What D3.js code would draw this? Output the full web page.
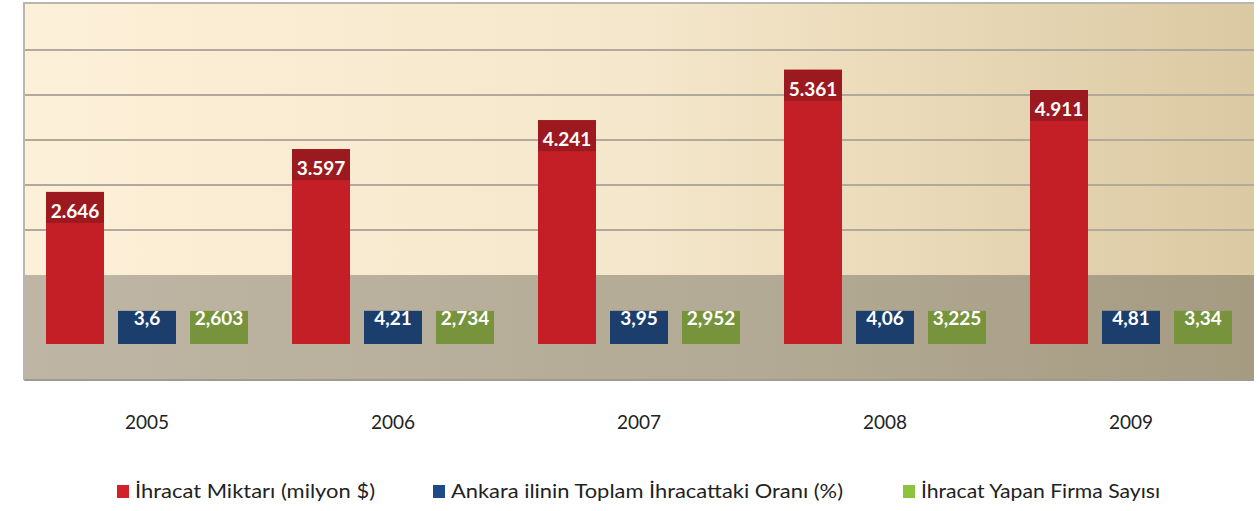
<!DOCTYPE html>
<html>
<head>
<meta charset="utf-8">
<script src="https://cdn.jsdelivr.net/npm/d3@7"></script>
<style>
  body { margin: 0; background: #fff; }
  svg { display: block; font-family: Lato, "Open Sans", sans-serif; }
</style>
</head>
<body>
<svg id="chart" width="1260" height="511"></svg>
<script>
// values
const years = ['2005', '2006', '2007', '2008', '2009'];
const seriesNames = [
  'İhracat Miktarı (milyon $)',
  'Ankara ilinin Toplam İhracattaki Oranı (%)',
  'İhracat Yapan Firma Sayısı'
];
const exportValues = [2646, 3597, 4241, 5361, 4911];
const shareValues = [3.6, 4.21, 3.95, 4.06, 4.81];
const firmValues = [2.603, 2.734, 2.952, 3.225, 3.34];
const yTicks = [1000, 2000, 3000, 4000, 5000];

const barColors = ['#c41f27', '#1b3e6d', '#77933c'];
const legendColors = ['#d22129', '#1f4a8a', '#8cc43f'];

const svg = d3.select('#chart');
const plotLeft = 24, plotRight = 1254, plotTop = 3;
const floorTop = 275, floorFront = 344, floorBottom = 380;
const depth = 36; // 3d shift between back wall and bar fronts

const loc = d3.formatLocale({decimal: ',', thousands: '.', grouping: [3], currency: ['', '']});
const fmt = loc.format(',~f');

const rows = years.map((yr, i) => ({
  year: yr,
  vals: [exportValues[i], shareValues[i], firmValues[i]]
}));

const x = d3.scaleBand().domain(years).range([plotLeft, plotRight]);
const xs = d3.scaleBand().domain([0, 1, 2]).range([0, x.bandwidth()])
  .paddingInner(14 / 72).paddingOuter(22 / 72);
const y = d3.scaleLinear().domain([0, 6000]).range([floorTop, 5]);

const defs = svg.append('defs');
const wall = defs.append('linearGradient').attr('id', 'wall');
wall.append('stop').attr('offset', '0%').attr('stop-color', '#fdf0d8');
wall.append('stop').attr('offset', '50%').attr('stop-color', '#f5e7cb');
wall.append('stop').attr('offset', '100%').attr('stop-color', '#dbc9a2');
const floor = defs.append('linearGradient').attr('id', 'floor');
floor.append('stop').attr('offset', '0%').attr('stop-color', '#beb5a4');
floor.append('stop').attr('offset', '60%').attr('stop-color', '#b3aa95');
floor.append('stop').attr('offset', '100%').attr('stop-color', '#a59b81');

// back wall
svg.append('rect')
  .attr('x', plotLeft).attr('y', plotTop)
  .attr('width', plotRight - plotLeft).attr('height', floorTop - plotTop)
  .attr('fill', 'url(#wall)');

// gridlines
svg.append('g')
  .selectAll('line')
  .data(yTicks)
  .join('line')
  .attr('x1', plotLeft).attr('x2', plotRight)
  .attr('y1', (d) => y(d)).attr('y2', (d) => y(d))
  .attr('stroke', '#b1aa9c')
  .attr('stroke-width', 2);

// floor
svg.append('rect')
  .attr('x', plotLeft).attr('y', floorTop)
  .attr('width', plotRight - plotLeft).attr('height', floorBottom - floorTop)
  .attr('fill', 'url(#floor)');
svg.append('line')
  .attr('x1', plotLeft).attr('x2', plotRight)
  .attr('y1', floorBottom).attr('y2', floorBottom)
  .attr('stroke', '#a09a90').attr('stroke-width', 2);

// frame
svg.append('path')
  .attr('d', `M${plotLeft},${floorBottom}V${plotTop}H${plotRight}`)
  .attr('fill', 'none')
  .attr('stroke', '#b9b6b0')
  .attr('stroke-width', 2);

// bars
const groups = svg.append('g')
  .selectAll('g')
  .data(rows)
  .join('g')
  .attr('transform', (d) => `translate(${x(d.year)},0)`);

groups.selectAll('rect.bar')
  .data((d) => d.vals.map((v, k) => ({v, k})))
  .join('rect')
  .attr('class', 'bar')
  .attr('x', (d) => xs(d.k))
  .attr('y', (d) => y(d.v) + depth)
  .attr('width', xs.bandwidth())
  .attr('height', (d) => floorFront - y(d.v) - depth)
  .attr('fill', (d) => barColors[d.k]);

// darker label boxes on the red bars
groups.append('rect')
  .attr('x', xs(0))
  .attr('y', (d) => y(d.vals[0]) + depth)
  .attr('width', xs.bandwidth())
  .attr('height', 31)
  .attr('fill', '#9c1a1f');

groups.selectAll('text.val')
  .data((d) => d.vals.map((v, k) => ({v, k})))
  .join('text')
  .attr('class', 'val')
  .attr('x', (d) => xs(d.k) + xs.bandwidth() / 2)
  .attr('y', (d) => y(d.v) + depth + (d.k === 0 ? 26 : 14))
  .attr('text-anchor', 'middle')
  .attr('font-size', 19)
  .attr('font-weight', 'bold')
  .attr('fill', '#fff')
  .text((d) => fmt(d.v));

// year labels
svg.append('g')
  .selectAll('text')
  .data(years)
  .join('text')
  .attr('x', (d) => x(d) + x.bandwidth() / 2)
  .attr('y', 429)
  .attr('text-anchor', 'middle')
  .attr('font-size', 19)
  .attr('fill', '#222')
  .text((d) => d);

// legend
const legendX = [117, 433, 903];
const legendW = [240, 392, 239];
const leg = svg.append('g')
  .selectAll('g')
  .data(seriesNames)
  .join('g')
  .attr('transform', (d, i) => `translate(${legendX[i]},485)`);
leg.append('rect')
  .attr('width', 12).attr('height', 13)
  .attr('fill', (d, i) => legendColors[i]);
leg.append('text')
  .attr('x', 18).attr('y', 13)
  .attr('font-size', 20)
  .attr('fill', '#222')
  .attr('textLength', (d, i) => legendW[i])
  .attr('lengthAdjust', 'spacingAndGlyphs')
  .text((d) => d);
</script>
</body>
</html>
